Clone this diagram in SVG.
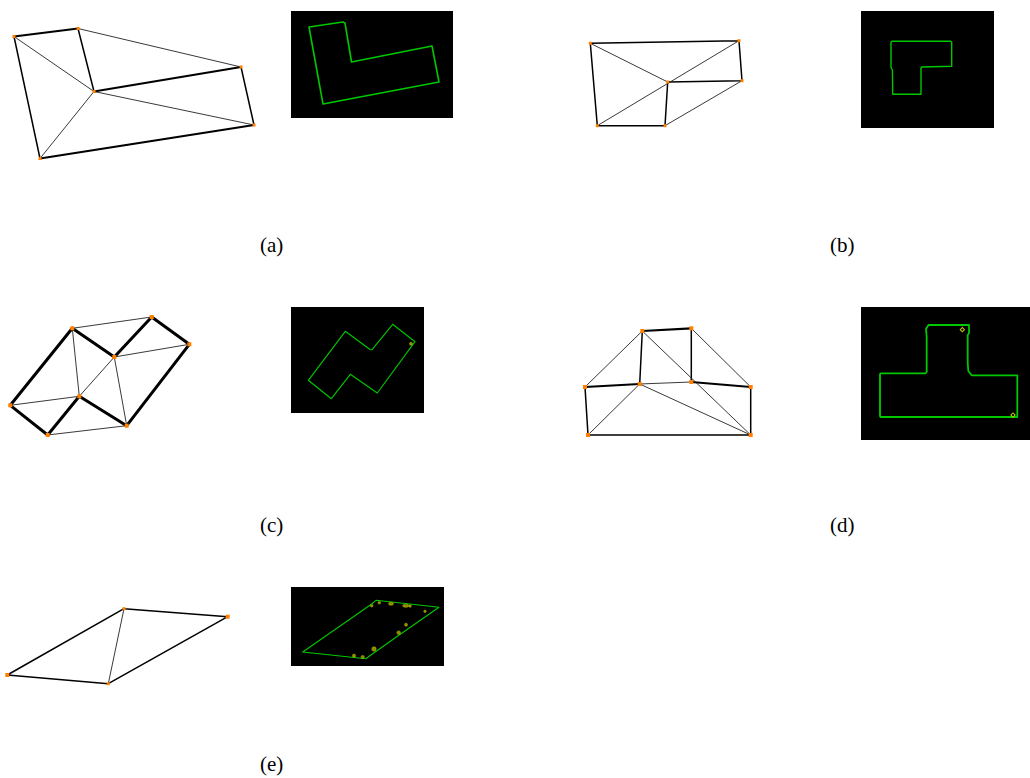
<svg xmlns="http://www.w3.org/2000/svg" width="1030" height="778" viewBox="0 0 1030 778">
<style>
.e{stroke:#000;fill:none;stroke-linecap:round}
.t1{stroke-width:.9;stroke:#222}
.t2{stroke-width:1.5}
.t3{stroke-width:2.2}
.t4{stroke-width:3}
.v{fill:#ff8000}
.bg{fill:#000}
.o{fill:none;stroke:#00c800;stroke-linejoin:round}
.y{fill:#8a8a00;stroke:#b0b000;stroke-width:.6}
.d{fill:none;stroke:#c8c800;stroke-width:1}
text{font-family:"Liberation Serif","Times New Roman",serif;font-size:21px;fill:#000}
</style>
<rect width="1030" height="778" fill="#fff"/>
<g id="connectors">
<g id="edges-a">
<path class="e t3" d="M14 36.500L78 28.500M94 91.500L241 67M40 158.500L254 125"/>
<path class="e t2" d="M14 36.500L40 158.500M78 28.500L94 91.500M241 67L254 125"/>
<path class="e t1" d="M14 36.500L94 91.500M78 28.500L241 67M94 91.500L254 125M94 91.500L40 158.500"/>
</g>
<g id="edges-b">
<path class="e t2" d="M590.300 43.300L739 40.700M590.300 43.300L597.300 125.700M739 40.700L742 80.700M667.700 82L742 80.700M667.700 82L665 125.700M597.300 125.700L665 125.700"/>
<path class="e t1" d="M590.300 43.300L667.700 82M739 40.700L597.300 125.700M742 80.700L665 125.700"/>
</g>
<g id="edges-c">
<path class="e t4" d="M72.300 328.300L10.300 405.300M72.300 328.300L114.300 357M114.300 357L151.700 317M151.700 317L189.300 344.300M189.300 344.300L126.700 425.700M79.300 396.300L126.700 425.700M79.300 396.300L47.700 435M10.300 405.300L47.700 435"/>
<path class="e t1" d="M72.300 328.300L151.700 317M114.300 357L189.300 344.300M72.300 328.300L79.300 396.300M114.300 357L79.300 396.300M114.300 357L126.700 425.700M10.300 405.300L79.300 396.300M47.700 435L126.700 425.700"/>
</g>
<g id="edges-d">
<path class="e t3" d="M642.300 331L691.300 328.300M585 387L639.700 384M691.300 382L750.700 387"/>
<path class="e t2" d="M642.300 331L639.700 384M691.300 328.300L691.300 382M585 387L588 435M750.700 387L750.700 435M588 435L750.700 435"/>
<path class="e t1" d="M642.300 331L585 387M691.300 328.300L750.700 387M639.700 384L691.300 382M642.300 331L750.700 435M639.700 384L750.700 435M639.700 384L588 435"/>
</g>
<g id="edges-e">
<path class="e t2" d="M7.300 675L124 608.700M124 608.700L227.700 616.700M227.700 616.700L108.300 683.700M7.300 675L108.300 683.700"/>
<path class="e t1" d="M124 608.700L108.300 683.700"/>
</g>
</g>
<g id="vertices">
<g class="v">
<rect x="12.500" y="35" width="3" height="3"/><rect x="76.500" y="27" width="3" height="3"/><rect x="92.500" y="90" width="3" height="3"/><rect x="239.500" y="65.500" width="3" height="3"/><rect x="252.500" y="123.500" width="3" height="3"/><rect x="38.500" y="157" width="3" height="3"/>
<rect x="588.800" y="41.800" width="3" height="3"/><rect x="737.500" y="39.200" width="3" height="3"/><rect x="666.200" y="80.500" width="3" height="3"/><rect x="740.500" y="79.200" width="3" height="3"/><rect x="595.800" y="124.200" width="3" height="3"/><rect x="663.500" y="124.200" width="3" height="3"/>
<rect x="70.300" y="326.300" width="4" height="4"/><rect x="149.700" y="315" width="4" height="4"/><rect x="187.300" y="342.300" width="4" height="4"/><rect x="112.300" y="355" width="4" height="4"/><rect x="77.300" y="394.300" width="4" height="4"/><rect x="8.300" y="403.300" width="4" height="4"/><rect x="45.700" y="433" width="4" height="4"/><rect x="124.700" y="423.700" width="4" height="4"/>
<rect x="640.300" y="329" width="4" height="4"/><rect x="689.300" y="326.300" width="4" height="4"/><rect x="583" y="385" width="4" height="4"/><rect x="637.700" y="382" width="4" height="4"/><rect x="689.300" y="380" width="4" height="4"/><rect x="748.700" y="385" width="4" height="4"/><rect x="586" y="433" width="4" height="4"/><rect x="748.700" y="433" width="4" height="4"/>
<rect x="122.500" y="607.200" width="3" height="3"/><rect x="225.700" y="614.700" width="4" height="4"/><rect x="106.800" y="682.200" width="3" height="3"/><rect x="5.300" y="673" width="4" height="4"/>
</g>
</g>
<g id="panel-a"><rect class="bg" x="291" y="11" width="162" height="107"/><path class="o" stroke-width="1.600" d="M309 27L343 22L345 23L351.500 62L432 46L439 82L323 104Z"/></g>
<g id="panel-b"><rect class="bg" x="861" y="11" width="133" height="117"/><path class="o" stroke-width="1.400" d="M892 41.300H950.700L951.700 42.300V66.300L921.500 67L921 68V94.300H892.700L892.400 70L891 67.500V42.300Z"/></g>
<g id="panel-c"><rect class="bg" x="291" y="307" width="133" height="106"/><path class="o" stroke-width="1.100" d="M345.300 331.300L370 349.500L372 349.700L392.700 324.300L415 341.700L377.300 393L350.300 374.300L331.300 398.700L308.300 380.300Z"/><circle class="y" cx="411" cy="343.700" r="1.500"/></g>
<g id="panel-d"><rect class="bg" x="861" y="307" width="169" height="133"/><path class="o" stroke-width="1.800" d="M928.500 325H969V333.300L967.700 335V362.700L968.300 371L971.700 375.300H1017.300V417H880.500L880 416V374L881 373.300H925.700L926.700 372V337L926 329Z"/><rect class="d" x="960.800" y="328.200" width="3" height="3" transform="rotate(45 962.300 329.700)"/><rect class="d" x="1011.500" y="413.500" width="3" height="3" transform="rotate(45 1013 415)"/></g>
<g id="panel-e"><rect class="bg" x="291" y="587" width="153" height="79"/><path class="o" stroke-width="1.100" d="M302.700 652L371.700 604L376 600.300L439 607.300L396.700 636.700L365.700 658.700Z"/>
<circle class="y" cx="371.700" cy="605.700" r="1.300"/><circle class="y" cx="379.300" cy="602.700" r="1.300"/><ellipse class="y" cx="391" cy="603.700" rx="2.500" ry="1.500"/><ellipse class="y" cx="405.700" cy="605.700" rx="3" ry="1.500"/><circle class="y" cx="410" cy="606" r="1.300"/><circle class="y" cx="425" cy="611.300" r="1.200"/><circle class="y" cx="406" cy="624.700" r="1.500"/><circle class="y" cx="398.700" cy="632.700" r="1.800"/><circle class="y" cx="374" cy="649" r="2.200"/><circle class="y" cx="354" cy="655.700" r="1.600"/><circle class="y" cx="362.700" cy="657" r="1.600"/></g>
<g id="labels">
<text x="260" y="252">(a)</text>
<text x="830" y="252">(b)</text>
<text x="260" y="532">(c)</text>
<text x="830" y="532">(d)</text>
<text x="260" y="771">(e)</text>
</g>
</svg>
